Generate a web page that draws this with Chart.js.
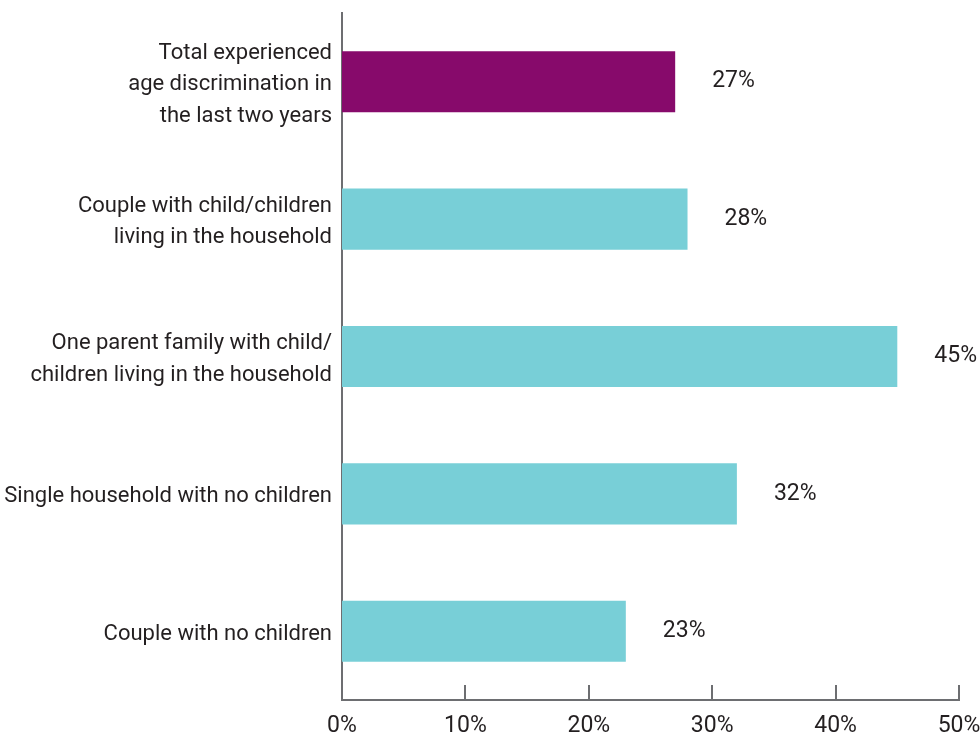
<!DOCTYPE html>
<html>
<head>
<meta charset="utf-8">
<script src="https://cdn.jsdelivr.net/npm/chart.js@4.4.1/dist/chart.umd.min.js"></script>
<style>
  html, body { margin: 0; padding: 0; background: #ffffff; }
  #wrap { width: 980px; height: 736px; }
</style>
</head>
<body>
<div id="wrap"><canvas id="chart" width="980" height="736"></canvas></div>
<script>
// Household type categories (multi-line labels)
const categories = [
  ['Total experienced', 'age discrimination in', 'the last two years'],
  ['Couple with child/children', 'living in the household'],
  ['One parent family with child/', 'children living in the household'],
  ['Single household with no children'],
  ['Couple with no children']
];
// Share who experienced age discrimination, percent
const values = [27, 28, 45, 32, 23];
const barColors = ['#870a6b', '#78cfd7', '#78cfd7', '#78cfd7', '#78cfd7'];
const xTickValues = [0, 10, 20, 30, 40, 50];

const FONT = '"Liberation Sans Narrow", "Arial Narrow", "Roboto", sans-serif';
const TEXT = '#231f20';
const AXIS = '#6d6e71';

// Value labels placed to the right of each bar
const valueLabels = {
  id: 'valueLabels',
  afterDatasetsDraw(chart) {
    const ctx = chart.ctx;
    const meta = chart.getDatasetMeta(0);
    ctx.save();
    ctx.font = '23px ' + FONT;
    ctx.fillStyle = TEXT;
    ctx.textAlign = 'left';
    ctx.textBaseline = 'middle';
    meta.data.forEach((bar, i) => {
      ctx.fillText(values[i] + '%', bar.x + 37, bar.y);
    });
    ctx.restore();
  }
};

// Short tick marks rising from the x axis into the plot area
const innerTicks = {
  id: 'innerTicks',
  afterDraw(chart) {
    const ctx = chart.ctx;
    const x = chart.scales.x;
    const bottom = chart.chartArea.bottom;
    ctx.save();
    ctx.strokeStyle = AXIS;
    ctx.lineWidth = 2;
    x.ticks.forEach(t => {
      const px = Math.round(x.getPixelForValue(t.value));
      ctx.beginPath();
      ctx.moveTo(px, bottom - 15);
      ctx.lineTo(px, bottom);
      ctx.stroke();
    });
    ctx.restore();
  }
};

new Chart(document.getElementById('chart'), {
  type: 'bar',
  data: {
    labels: categories,
    datasets: [{
      data: values,
      backgroundColor: barColors,
      borderWidth: 0,
      barPercentage: 0.89,
      categoryPercentage: 0.5
    }]
  },
  options: {
    indexAxis: 'y',
    responsive: false,
    animation: false,
    devicePixelRatio: 1,
    layout: { padding: { top: 13, right: 21, left: 0, bottom: 0 } },
    plugins: {
      legend: { display: false },
      tooltip: { enabled: false }
    },
    scales: {
      x: {
        min: 0,
        max: 50,
        afterBuildTicks(scale) {
          scale.ticks = xTickValues.map(v => ({ value: v }));
        },
        afterFit(scale) {
          scale.height = 36;
          scale.paddingLeft = 0;
          scale.paddingRight = 0;
        },
        grid: { display: false, drawTicks: false },
        border: { display: true, color: AXIS, width: 2 },
        ticks: {
          padding: 12,
          color: TEXT,
          font: { family: FONT, size: 23 },
          callback: v => v + '%'
        }
      },
      y: {
        afterFit(scale) {
          scale.width = 342;
          scale.paddingTop = 0;
          scale.paddingBottom = 0;
        },
        grid: { display: false, drawTicks: false },
        border: { display: true, color: AXIS, width: 2 },
        ticks: {
          padding: 10,
          labelOffset: 3,
          color: TEXT,
          font: { family: FONT, size: 22, lineHeight: 1.43 }
        }
      }
    }
  },
  plugins: [valueLabels, innerTicks]
});
</script>
</body>
</html>
